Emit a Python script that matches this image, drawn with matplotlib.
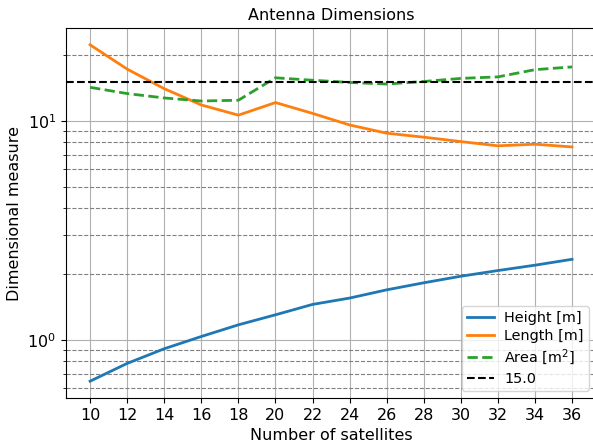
import numpy as np
import matplotlib.pyplot as plt

# number of satellites
sats = [10, 12, 14, 16, 18, 20, 22, 24, 26, 28, 30, 32, 34, 36]

height = [0.647, 0.78, 0.91, 1.035, 1.17, 1.30, 1.45, 1.55, 1.69, 1.82, 1.95, 2.07, 2.19, 2.33]
length = [22.2, 17.2, 14.0, 11.8, 10.6, 12.1, 10.8, 9.56, 8.77, 8.41, 8.03, 7.68, 7.81, 7.59]
area = [14.2, 13.3, 12.7, 12.3, 12.4, 15.7, 15.3, 14.95, 14.7, 15.1, 15.6, 15.85, 17.1, 17.6]
limit = 15.0

plt.rcParams['font.size'] = 11.5

fig = plt.figure(figsize=(5.93, 4.46), dpi=100)
ax = fig.add_axes([0.1113, 0.1076, 0.894, 0.8296])

ax.plot(sats, height, label='Height [m]', linewidth=2)
ax.plot(sats, length, label='Length [m]', linewidth=2)
ax.plot(sats, area, '--', label='Area [m$^2$]', linewidth=2)
ax.axhline(limit, color='k', linestyle='--', label=str(limit))

ax.set_yscale('log')
ax.set_xticks(np.arange(10, 37, 2))
ax.tick_params(labelsize=11.5)
ax.grid(which='major', color='#b0b0b0', linewidth=0.8)
ax.grid(which='minor', axis='y', color='gray', linestyle='--', linewidth=0.8)

ax.set_title('Antenna Dimensions', fontsize=11.5)
ax.set_xlabel('Number of satellites', fontsize=11.5)
ax.set_ylabel('Dimensional measure', fontsize=11.5)
ax.legend(loc='lower right', fontsize=10.4, labelspacing=0.3, borderpad=0.35,
          handlelength=1.9, handletextpad=0.7)

fig.savefig('out.png', dpi=100)
